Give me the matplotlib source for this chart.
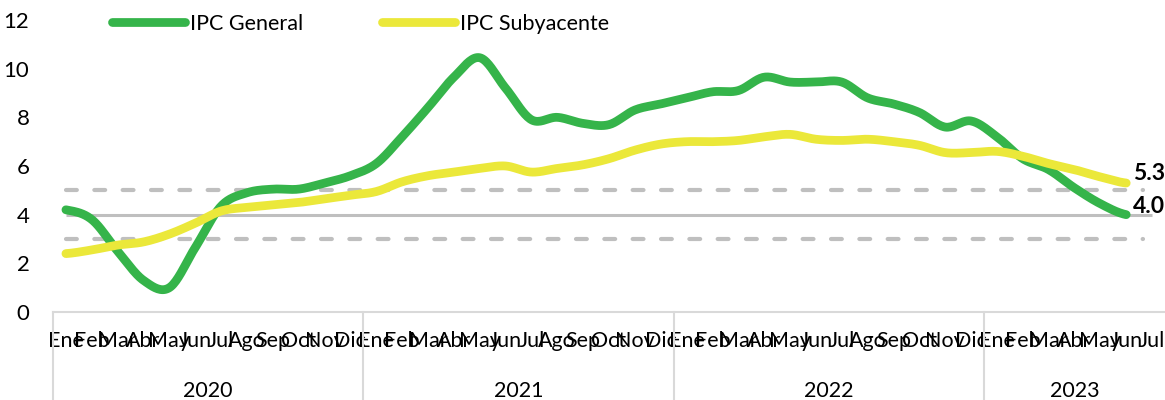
import numpy as np
import matplotlib
matplotlib.use("Agg")
import matplotlib.pyplot as plt
from matplotlib.lines import Line2D
import matplotlib.transforms as mtransforms

plt.rcParams['font.family'] = ['Lato', 'DejaVu Sans']

# Data (% annual), Ene 2020 - Jun 2023
years = ["2020", "2021", "2022", "2023"]
months_per_year = [12, 12, 12, 7]
months = ["Ene", "Feb", "Mar", "Abr", "May", "Jun", "Jul",
          "Ago", "Sep", "Oct", "Nov", "Dic"]

ipc_general = [4.2, 3.8, 2.5, 1.3, 1.0, 2.65, 4.35, 4.9, 5.05, 5.05, 5.3, 5.6,
               6.1, 7.2, 8.4, 9.65, 10.45, 9.2, 7.9, 8.0, 7.75, 7.7, 8.3, 8.55,
               8.8, 9.05, 9.1, 9.65, 9.45, 9.45, 9.45, 8.8, 8.55, 8.2, 7.6, 7.85,
               7.2, 6.3, 5.85, 5.1, 4.45, 4.0]
ipc_subyacente = [2.4, 2.55, 2.75, 2.88, 3.2, 3.65, 4.15, 4.3, 4.4, 4.5, 4.65, 4.8,
                  4.95, 5.35, 5.6, 5.75, 5.9, 6.0, 5.75, 5.9, 6.05, 6.3, 6.65, 6.9,
                  7.0, 7.0, 7.05, 7.2, 7.3, 7.1, 7.05, 7.1, 7.0, 6.85, 6.55, 6.55,
                  6.6, 6.4, 6.1, 5.85, 5.55, 5.3]

target = 4
band_low, band_high = 3, 5

green = "#35B44A"
yellow = "#EBE83A"
grey = "#BFBFBF"


# Excel-like smoothed line (Catmull-Rom through the points)
def smooth(y, n=20):
    y = np.asarray(y, dtype=float)
    xs, ys = [], []
    t = np.linspace(0, 1, n, endpoint=False)
    for i in range(len(y) - 1):
        p0 = y[i - 1] if i > 0 else y[i]
        p1, p2 = y[i], y[i + 1]
        p3 = y[i + 2] if i + 2 < len(y) else y[i + 1]
        m1 = (p2 - p0) / 2
        m2 = (p3 - p1) / 2
        h00 = 2 * t**3 - 3 * t**2 + 1
        h10 = t**3 - 2 * t**2 + t
        h01 = -2 * t**3 + 3 * t**2
        h11 = t**3 - t**2
        ys.append(h00 * p1 + h10 * m1 + h01 * p2 + h11 * m2)
        xs.append(i + t)
    xs.append([len(y) - 1])
    ys.append([y[-1]])
    return np.concatenate(xs), np.concatenate(ys)


fig = plt.figure(figsize=(11.65, 4), dpi=100)
ax = fig.add_axes([53 / 1165, 88 / 400, 1 - 53 / 1165, 292 / 400])

n_cat = sum(months_per_year)
ax.set_xlim(-0.5, n_cat - 0.5)
ax.set_ylim(0, 12)

# target and band
last = len(ipc_general) - 1
ax.hlines(target, 0, last + 1.0, color=grey, lw=2.2, zorder=1)
for b in (band_low, band_high):
    ax.hlines(b, 0, last + 0.65, color=grey, lw=3, linestyles=(0, (2.6, 4.2)),
              capstyle='round', zorder=1)

xg, yg = smooth(ipc_general)
xs, ys = smooth(ipc_subyacente)
ax.plot(xg, yg, color=green, lw=6.3, solid_capstyle='round', zorder=3)
ax.plot(xs, ys, color=yellow, lw=6.3, solid_capstyle='round', zorder=4)

ax.text(last + 0.25, ipc_subyacente[-1] - 0.05, f"{ipc_subyacente[-1]:.1f}",
        fontsize=16.5, fontweight='bold', va='bottom', ha='left', zorder=5)
ax.text(last + 0.25, ipc_general[-1] - 0.1, f"{ipc_general[-1]:.1f}",
        fontsize=16.5, fontweight='bold', va='bottom', ha='left', zorder=5)

# axes
for s in ("left", "right", "top"):
    ax.spines[s].set_visible(False)
ax.spines["bottom"].set_color("#D9D9D9")
ax.spines["bottom"].set_linewidth(1.5)
ax.set_yticks(range(0, 13, 2))
ax.tick_params(axis='y', length=0, pad=17, labelsize=16)

labels = []
for k in months_per_year:
    labels += months[:k]
ax.set_xticks(range(n_cat))
ax.set_xticklabels(labels, fontsize=15.5)
ax.tick_params(axis='x', length=0, pad=14)

trans = mtransforms.blended_transform_factory(ax.transData, ax.transAxes)
start = 0
for yr, k in zip(years, months_per_year):
    ax.plot([start - 0.5, start - 0.5], [0, -0.31], transform=trans,
            color="#D9D9D9", lw=1.5, clip_on=False)
    ax.text(start + k / 2 - 0.5, -0.27, yr, transform=trans, fontsize=15.5,
            ha='center', va='center')
    start += k

handles = [Line2D([], [], color=green, lw=6.3, solid_capstyle='round'),
           Line2D([], [], color=yellow, lw=6.3, solid_capstyle='round')]
fig.legend(handles, ["IPC General", "IPC Subyacente"], loc='center left',
           bbox_to_anchor=(112 / 1165, 1 - 24 / 400), ncol=2, frameon=False,
           fontsize=15.5, handlelength=3.4, handletextpad=0.2, columnspacing=3.7,
           borderpad=0, borderaxespad=0)

fig.savefig("out.png", dpi=100)
